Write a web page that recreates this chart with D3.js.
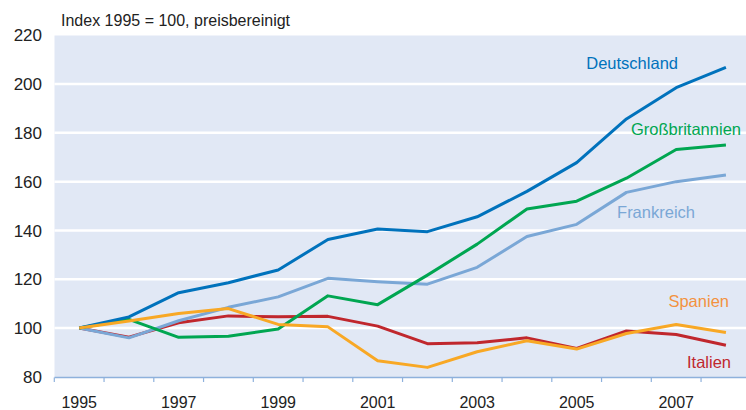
<!DOCTYPE html>
<html>
<head>
<meta charset="utf-8">
<script src="https://cdn.jsdelivr.net/npm/d3@7"></script>
<style>
  body { margin: 0; background: #fff; }
  text { font-family: "Liberation Sans", Arial, sans-serif; }
</style>
</head>
<body>
<div id="chart"></div>
<script>
// Data: Index 1995 = 100
var years = [1995, 1996, 1997, 1998, 1999, 2000, 2001, 2002, 2003, 2004, 2005, 2006, 2007, 2008];
var yTicks = [80, 100, 120, 140, 160, 180, 200, 220];
var xTickLabels = [1995, 1997, 1999, 2001, 2003, 2005, 2007];

var italien        = [100, 96.3, 102.2, 105, 104.6, 104.8, 100.8, 93.6, 94, 96, 91.7, 98.8, 97.4, 93];
var frankreich     = [100, 96, 103, 108.5, 112.8, 120.4, 119, 118, 124.9, 137.5, 142.5, 155.6, 160, 162.7];
var grossbritannien = [100, 103.6, 96.2, 96.7, 99.6, 113.2, 109.6, 121.7, 134.4, 148.8, 152, 161.4, 173.2, 175];
var deutschland    = [100, 104.6, 114.5, 118.6, 123.8, 136.3, 140.6, 139.5, 145.6, 156, 167.8, 185.7, 198.5, 206.8];
var spanien        = [100, 102.9, 106, 108, 101.5, 100.5, 86.6, 83.9, 90.3, 94.8, 91.4, 97.8, 101.5, 98.2];

var series = [
  {name: "Italien", values: italien, color: "#c0272d", label: "#c0272d", lx: 731, ly: 362},
  {name: "Frankreich", values: frankreich, color: "#7aa7d6", label: "#7aa7d6", lx: 695, ly: 212},
  {name: "Großbritannien", values: grossbritannien, color: "#00a651", label: "#00a651", lx: 741, ly: 129},
  {name: "Deutschland", values: deutschland, color: "#0072bc", label: "#0072bc", lx: 678, ly: 63},
  {name: "Spanien", values: spanien, color: "#f8a825", label: "#f3923f", lx: 729, ly: 301}
];

var width = 746, height = 410;
var plotLeft = 54.5, plotRight = 746, plotTop = 35.5, plotBottom = 377.5;

var svg = d3.select("#chart").append("svg")
    .attr("width", width)
    .attr("height", height);

var x = d3.scaleBand()
    .domain(years)
    .range([54.3, 54.3 + 14 * 49.75]);

var y = d3.scaleLinear()
    .domain([80, 220])
    .range([376.9, 35.2]);

// background
svg.append("rect")
    .attr("x", plotLeft)
    .attr("y", plotTop)
    .attr("width", plotRight - plotLeft)
    .attr("height", plotBottom - plotTop)
    .attr("fill", "#e1e8f5");

// gridlines
svg.append("g")
  .selectAll("line")
  .data(yTicks.filter(function(d) { return d > 80 && d < 220; }))
  .enter().append("line")
    .attr("x1", plotLeft)
    .attr("x2", plotRight)
    .attr("y1", function(d) { return y(d); })
    .attr("y2", function(d) { return y(d); })
    .attr("stroke", "#fff")
    .attr("stroke-width", 2.5);

// y labels
svg.append("g")
  .selectAll("text")
  .data(yTicks)
  .enter().append("text")
    .attr("x", 42)
    .attr("y", function(d) { return y(d); })
    .attr("dy", "0.36em")
    .attr("text-anchor", "end")
    .attr("font-size", 17)
    .attr("fill", "#222")
    .text(function(d) { return d; });

// x axis
var xAxis = svg.append("g")
    .attr("transform", "translate(0," + plotBottom + ")");
xAxis.append("line")
    .attr("x1", plotLeft)
    .attr("x2", plotRight)
    .attr("stroke", "#8eb1dc")
    .attr("stroke-width", 1.5);
xAxis.selectAll(".tick")
    .data(years)
  .enter().append("line")
    .attr("x1", function(d) { return x(d); })
    .attr("x2", function(d) { return x(d); })
    .attr("y1", 0)
    .attr("y2", 4.5)
    .attr("stroke", "#8eb1dc")
    .attr("stroke-width", 1.2);
xAxis.selectAll("text")
    .data(xTickLabels)
  .enter().append("text")
    .attr("x", function(d) { return x(d) + x.bandwidth() / 2; })
    .attr("y", 30.5)
    .attr("text-anchor", "middle")
    .attr("font-size", 16)
    .attr("fill", "#222")
    .text(function(d) { return d; });

// title
svg.append("text")
    .attr("x", 61)
    .attr("y", 26)
    .attr("font-size", 16)
    .attr("fill", "#222")
    .text("Index 1995 = 100, preisbereinigt");

// lines
var line = d3.line()
    .x(function(d, i) { return x(years[i]) + x.bandwidth() / 2; })
    .y(function(d) { return y(d); });

svg.append("g")
  .selectAll("path")
  .data(series)
  .enter().append("path")
    .attr("d", function(d) { return line(d.values); })
    .attr("fill", "none")
    .attr("stroke", function(d) { return d.color; })
    .attr("stroke-width", 3)
    .attr("stroke-linejoin", "round");

// series labels
svg.append("g")
  .selectAll("text")
  .data(series)
  .enter().append("text")
    .attr("x", function(d) { return d.lx; })
    .attr("y", function(d) { return d.ly; })
    .attr("dy", "0.36em")
    .attr("text-anchor", "end")
    .attr("font-size", 16.5)
    .attr("fill", function(d) { return d.label; })
    .text(function(d) { return d.name; });
</script>
</body>
</html>
